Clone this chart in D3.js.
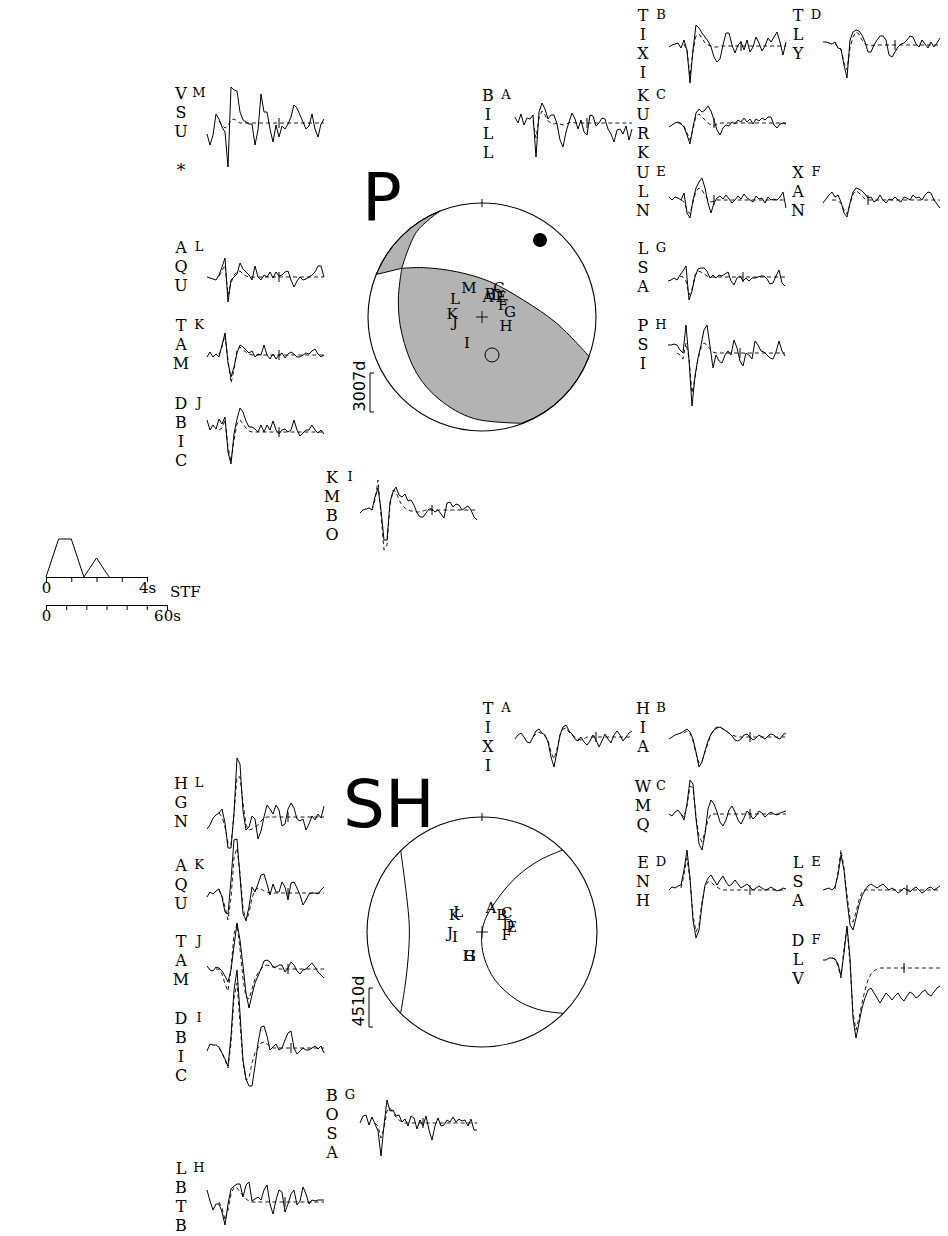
<!DOCTYPE html>
<html>
<head>
<meta charset="utf-8">
<script src="https://cdn.jsdelivr.net/npm/d3@7"></script>
<style>
  body { margin: 0; background: #fff; }
  svg { display: block; }
</style>
</head>
<body>
<svg id="fig" width="948" height="1236"></svg>
<script>
// ---------- data ----------
const pCodes = ["A","B","C","D","E","F","G","H","I","J","K","L","M"];
const pNames = ["BILL","TIXI","KURK","TLY","ULN","XAN","LSA","PSI","KMBO","DBIC","TAM","AQU","VSU *"];
const shCodes = ["A","B","C","D","E","F","G","H","I","J","K","L"];
const shNames = ["TIXI","HIA","WMQ","ENH","LSA","DLV","BOSA","LBTB","DBIC","TAM","AQU","HGN"];

// station positions on the focal sphere (unit circle, y up)
const pBallX = [0.053,0.070,0.149,0.132,0.167,0.184,0.246,0.211,-0.132,-0.237,-0.263,-0.237,-0.114];
const pBallY = [0.175,0.202,0.254,0.193,0.175,0.105,0.044,-0.079,-0.228,-0.044,0.026,0.158,0.254];
const shBallX = [0.078,0.171,0.215,0.229,0.258,0.215,-0.104,-0.113,-0.235,-0.278,-0.241,-0.206];
const shBallY = [0.206,0.148,0.162,0.061,0.046,-0.026,-0.209,-0.209,-0.041,-0.011,0.148,0.176];

// nodal lines
const pPlane1 = [[-0.366,0.931],[-0.573,0.748],[-0.704,0.427],[-0.734,0.149],[-0.704,-0.143],[-0.573,-0.494],[-0.368,-0.728],[-0.077,-0.889],[0.348,-0.932]];
const pPlane2 = [[-0.928,0.373],[-0.704,0.427],[-0.515,0.433],[-0.222,0.397],[0.070,0.310],[0.362,0.149],[0.655,-0.055],[0.939,-0.345]];
const shLine1 = [[-0.707,0.707],[-0.684,0.539],[-0.655,0.307],[-0.632,0.046],[-0.641,-0.215],[-0.670,-0.476],[-0.707,-0.702]];
const shLine2 = [[0.702,0.713],[0.504,0.626],[0.302,0.481],[0.128,0.278],[0.026,0.104],[-0.003,-0.041],[0.017,-0.215],[0.113,-0.417],[0.302,-0.591],[0.504,-0.678],[0.702,-0.707]];
const tAxis = [0.509, 0.675];
const pAxis = [0.088, -0.333];

// source time function (s, relative amplitude)
const stfTime = [0, 0.5, 1.0, 1.5, 2.0, 2.5];
const stfAmp = [0, 1, 1, 0, 0.5, 0];

// P waveforms: observed (solid) and synthetic (dashed)
const pObsA = [6,0,9,-2,5,4,8,-34,11,20,14,4,8,8,-1,-17,-24,-9,1,10,4,-6,3,-9,-12,8,7,-3,0,5,4,-6,-11,-19,-7,-6,-11,-3,-17,-6];
const pSynA = [null,null,null,null,null,null,2,-15,5,12,8,2,0,-1,0,-1,-2,-1,0,1,0,0,0,0,0,0,0,0,0,0,0,0,0,0,0,0,0,0,0,0];
const pObsB = [-1,1,2,3,-2,6,-4,-37,-4,21,18,13,9,5,-1,-11,-16,-13,1,13,13,1,-7,1,4,-4,6,-6,-1,9,3,-5,0,8,4,9,14,4,-9,4];
const pSynB = [null,null,null,null,null,2,-5,-30,-5,10,12,8,3,1,0,-1,-1,0,0,0,0,0,0,0,0,0,0,0,0,0,0,0,0,0,0,0,0,0,0,0];
const pObsC = [-4,-2,0,1,-1,-4,-12,-21,-4,10,14,11,13,17,12,3,-7,-12,-5,-2,-3,1,-1,3,1,5,1,4,-1,4,2,5,3,6,6,-2,-5,-1,0,-1];
const pSynC = [null,null,null,0,0,-3,-10,-17,-6,7,9,6,3,0,-2,-3,-1,0,0,0,0,0,0,0,0,0,0,0,0,0,0,0,0,0,0,0,0,0,0,0];
const pObsD = [3,3,2,1,3,-3,-4,-20,-33,5,13,15,14,10,3,-7,-7,0,5,9,9,5,-10,-12,-7,-2,1,2,5,9,8,1,-2,5,1,-3,3,-2,2,7];
const pSynD = [null,null,null,null,1,-2,-4,-18,-25,-3,8,13,11,5,1,0,-1,0,0,0,0,0,0,0,0,0,0,0,0,0,0,0,0,0,0,0,0,0,0,0];
const pObsE = [3,0,3,2,0,7,-13,-18,0,12,18,22,12,-3,-13,-3,2,4,1,5,1,-3,0,4,1,6,2,0,-2,4,1,2,-3,3,0,1,0,3,8,-8];
const pSynE = [null,null,null,null,0,-2,-10,-14,-2,9,12,10,5,0,-2,-1,0,0,0,0,0,0,0,0,0,0,0,0,0,0,0,0,0,0,0,0,0,0,0,0];
const pObsF = [-3,1,5,8,3,5,-2,-13,-17,-3,8,12,11,9,6,2,3,-2,0,5,0,-3,1,0,3,0,-2,3,2,0,5,2,3,0,5,8,7,0,-4,-8];
const pSynF = [null,null,null,0,0,-1,-3,-10,-14,-4,6,9,7,4,1,0,0,0,0,0,0,0,0,0,0,0,0,0,0,0,0,0,0,0,0,0,0,0,0,0];
const pObsG = [-4,-3,-1,-3,2,6,11,-23,-14,0,8,9,9,6,-1,2,-1,2,1,3,5,-4,-8,-1,1,-4,-1,-4,-1,-1,0,1,1,-2,-7,-6,1,7,-6,-9];
const pSynG = [null,null,null,null,1,0,-4,-18,-12,2,6,5,3,1,0,0,0,0,0,0,0,0,0,0,0,0,0,0,0,0,0,0,0,0,0,0,0,0,0,0];
const pObsH = [8,8,9,8,3,0,28,-7,-53,-23,-5,8,23,28,7,-15,-2,-8,-10,-2,2,-2,13,5,-8,-13,0,-2,-6,12,8,2,1,-2,-5,-6,1,12,2,-3];
const pSynH = [null,null,null,0,-2,-6,10,-5,-40,-25,-6,5,10,8,4,1,0,0,0,0,0,0,0,0,0,0,0,0,0,0,0,0,0,0,0,0,0,0,0,0];
const pObsI = [-3,0,1,2,0,13,22,0,-30,-30,8,18,23,15,13,16,9,10,5,-3,-7,-7,-3,1,1,-2,0,-4,-8,7,8,3,6,5,0,2,4,0,-7,-10];
const pSynI = [null,null,null,null,0,10,30,-5,-40,-35,5,20,18,10,5,2,0,-1,-1,-2,-2,-1,0,0,0,0,0,0,0,0,0,0,0,0,0,0,0,0,0,0];
const pObsJ = [12,2,7,3,13,8,15,-20,-32,-2,13,24,20,11,5,5,3,0,7,0,7,2,11,2,-2,2,3,0,2,12,2,-4,-1,2,2,7,2,-1,2,-2];
const pSynJ = [null,null,null,null,2,4,12,-15,-30,-8,8,12,8,4,1,0,0,0,0,0,0,0,0,0,0,0,0,0,0,0,0,0,0,0,0,0,0,0,0,0];
const pObsK = [-2,3,-2,1,-2,10,22,-8,-22,-12,2,10,8,5,2,4,-2,1,0,10,0,-4,1,-4,0,2,-3,1,3,1,-2,-2,0,2,1,4,6,1,-2,0];
const pSynK = [null,null,null,null,0,8,20,-5,-28,-15,5,8,5,3,1,0,0,0,0,0,0,0,0,0,0,0,0,0,0,0,0,0,0,0,0,0,0,0,0,0];
const pObsL = [0,-1,-2,-3,2,10,19,-25,-3,0,3,14,8,5,2,-3,11,0,-3,2,0,5,-1,5,1,2,5,6,-3,-10,-4,0,-3,-2,0,2,5,11,11,0];
const pSynL = [null,null,null,null,1,6,12,-18,-6,2,5,6,3,1,0,0,0,0,0,0,0,0,0,0,0,0,0,0,0,0,0,0,0,0,0,0,0,0,0,0];
const pObsM = [-11,-22,-12,9,4,-4,-9,-44,36,33,32,11,3,1,-1,-1,-22,-7,29,11,11,-6,-19,-2,-14,-3,-6,-1,6,18,15,8,1,-6,-3,9,-6,-14,-1,4];
const pSynM = [null,null,null,null,2,-2,-5,-3,3,4,2,0,0,0,0,0,0,0,0,0,0,0,0,0,0,0,0,0,0,0,0,0,0,0,0,0,0,0,0,0];

// SH waveforms
const shObsA = [-2,2,4,0,-5,-6,0,6,8,4,2,-5,-20,-30,-15,2,10,12,6,3,-2,-4,0,-5,-8,-4,2,-3,-10,-4,3,-2,-6,2,6,2,-4,0,4,6];
const shSynA = [null,null,null,null,null,null,0,3,5,3,1,-3,-15,-22,-12,2,8,9,5,2,0,-2,-3,-2,0,0,0,0,0,0,0,0,0,0,0,0,0,0,0,0];
const shObsB = [-2,0,2,3,4,6,8,5,-2,-15,-30,-25,-14,-4,3,7,9,10,8,6,4,1,-3,-4,-2,2,3,0,-3,-1,2,0,-2,1,3,2,-1,-2,2,4];
const shSynB = [null,null,null,null,null,4,6,4,-4,-16,-26,-24,-15,-6,2,8,10,10,8,6,4,2,1,0,0,0,0,0,0,0,0,0,0,0,0,0,0,0,0,0];
const shObsC = [0,-2,2,4,0,-6,10,34,30,-5,-30,-36,-20,5,14,10,2,-8,-12,-6,4,8,2,-6,-10,-4,3,0,-5,-2,3,1,-3,0,2,0,-1,1,2,3];
const shSynC = [null,null,null,null,0,-3,8,28,26,-2,-22,-28,-18,-6,0,0,0,0,0,0,0,0,0,0,0,0,0,0,0,0,0,0,0,0,0,0,0,0,0,0];
const shObsD = [0,3,2,4,5,20,40,12,-30,-48,-40,-15,5,12,15,10,5,10,14,8,4,6,10,6,2,4,6,3,0,2,4,2,0,1,3,1,-1,0,2,1];
const shSynD = [null,null,null,null,2,15,32,10,-25,-42,-35,-12,4,8,8,5,3,1,0,0,0,0,0,0,0,0,0,0,0,0,0,0,0,0,0,0,0,0,0,0];
const shObsE = [0,1,2,0,3,15,35,20,-10,-35,-40,-28,-15,-6,0,4,6,4,2,4,6,3,0,2,0,-3,-1,2,0,-2,1,3,0,-3,-1,2,3,0,2,4];
const shSynE = [null,null,null,null,1,18,40,22,-5,-28,-32,-22,-10,-2,0,0,0,0,0,0,0,0,0,0,0,0,0,0,0,0,0,0,0,0,0,0,0,0,0,0];
const shObsF = [8,8,10,10,9,4,-8,15,42,10,-50,-70,-55,-40,-30,-22,-20,-25,-30,-35,-30,-25,-28,-32,-28,-25,-30,-33,-28,-24,-26,-30,-28,-24,-22,-26,-28,-24,-20,-18];
const shSynF = [null,null,null,10,9,2,-10,20,40,5,-45,-62,-50,-35,-22,-12,-6,-3,-1,0,0,0,0,0,0,0,0,0,0,0,0,0,0,0,0,0,0,0,0,0];
const shObsG = [0,7,8,-2,6,-1,-8,-33,-2,23,12,13,7,8,1,4,-3,7,5,-6,3,-3,7,-7,-17,-3,5,-3,-2,3,1,6,1,4,2,3,-3,4,-7,-7];
const shSynG = [null,null,null,null,null,0,-3,-15,-5,12,15,10,6,3,1,0,0,0,0,0,0,0,0,0,0,0,0,0,0,0,0,0,0,0,0,0,0,0,0,0];
const shObsH = [12,1,-8,-2,-2,-10,-23,-2,13,16,18,18,5,17,20,1,3,5,2,12,17,-2,-12,2,12,10,-10,-2,8,12,-3,1,15,8,-2,2,1,2,2,2];
const shSynH = [null,null,null,null,0,-6,-18,-8,8,15,14,10,6,3,1,0,0,0,0,0,0,0,0,0,0,0,0,0,0,0,0,0,0,0,0,0,0,0,0,0];
const shObsI = [-3,4,3,3,1,-5,-11,-18,12,58,78,35,-12,-31,-38,-38,-18,5,21,22,12,-2,1,4,-2,0,8,15,17,0,-6,-3,0,-2,-2,0,2,-1,2,-5];
const shSynI = [null,null,null,null,0,-5,-12,-20,5,50,65,25,-15,-32,-30,-15,-5,0,5,6,4,2,0,0,0,0,0,0,0,0,0,0,0,0,0,0,0,0,0,0];
const shObsJ = [3,-1,-2,2,1,-2,-7,-13,-1,23,46,29,3,-24,-39,-26,-14,-7,0,8,9,7,2,2,4,4,-3,1,7,4,-2,-5,-1,0,3,6,2,-3,-6,-9];
const shSynJ = [null,null,null,0,0,-5,-15,-22,0,35,45,20,-10,-28,-30,-20,-10,-4,0,3,4,3,2,1,0,0,0,0,0,0,0,0,0,0,0,0,0,0,0,0];
const shObsK = [-4,1,-1,2,4,-4,-19,-21,13,53,54,16,-21,-27,-14,6,1,9,18,19,9,-2,9,1,1,11,6,-7,10,11,5,-2,-12,-7,-1,0,0,-1,3,6];
const shSynK = [null,null,null,null,3,-3,-14,-27,-5,35,45,20,-15,-28,-20,-5,3,5,4,2,1,0,0,0,0,0,0,0,0,0,0,0,0,0,0,0,0,0,0,0];
const shObsL = [-12,-8,-1,2,4,8,-6,-31,-31,4,59,53,6,-13,-10,1,-2,-22,-14,0,12,8,3,12,7,-9,-7,8,14,9,-2,-4,-2,-13,-7,1,-3,3,-1,11];
const shSynL = [null,null,null,null,4,0,-10,-26,-28,3,40,40,14,-8,-13,-12,-10,-8,-4,-1,0,0,0,0,0,0,0,0,0,0,0,0,0,0,0,0,0,0,0,0];

const pObs = [pObsA,pObsB,pObsC,pObsD,pObsE,pObsF,pObsG,pObsH,pObsI,pObsJ,pObsK,pObsL,pObsM];
const pSyn = [pSynA,pSynB,pSynC,pSynD,pSynE,pSynF,pSynG,pSynH,pSynI,pSynJ,pSynK,pSynL,pSynM];
const shObs = [shObsA,shObsB,shObsC,shObsD,shObsE,shObsF,shObsG,shObsH,shObsI,shObsJ,shObsK,shObsL];
const shSyn = [shSynA,shSynB,shSynC,shSynD,shSynE,shSynF,shSynG,shSynH,shSynI,shSynJ,shSynK,shSynL];
// sample index of the window mark on each trace
const pTick = [24,24,15,24,15,15,25,24,24,24,24,24,24];
const shTick = [27,27,27,27,28,27,21,26,28,27,27,27];

// ---------- layout ----------
const pLabelPos = [[488,95],[643,15],[643,95],[798,15],[643,172],[798,172],[643,248],[643,325],[332,477],[181,403],[181,325],[181,247],[181,93]];
const pTracePos = [[515,123],[669,46],[669,123],[823,45],[669,200],[823,200],[668,277],[668,353],[360,510],[207,432],[207,355],[207,277],[207,123]];
const shLabelPos = [[488,708],[643,708],[643,786],[643,862],[798,862],[798,940],[332,1095],[181,1168],[181,1018],[181,941],[181,865],[181,783]];
const shTracePos = [[515,737],[669,737],[669,814],[669,890],[823,890],[823,968],[360,1123],[207,1202],[207,1048],[207,969],[207,893],[207,817]];

const TRACE_W = 117;
const LETTER_STEP = 19.3;
const SERIF = "'DejaVu Serif', serif";
const SANS = "'DejaVu Sans', sans-serif";

const svg = d3.select("#fig");

// station label written top to bottom + small code letter
function drawLabel(x, y, name, code) {
    const g = svg.append("g").attr("font-family", SERIF).attr("fill", "#000");
    name.split("").forEach((ch, k) => {
        if (ch === " ") return;
        g.append("text")
            .attr("x", x).attr("y", y + k * LETTER_STEP)
            .attr("text-anchor", "middle")
            .attr("dominant-baseline", "central")
            .attr("font-size", ch === "*" ? 17 : 16)
            .text(ch);
    });
    g.append("text")
        .attr("x", x + 18).attr("y", y - 1)
        .attr("text-anchor", "middle")
        .attr("dominant-baseline", "central")
        .attr("font-size", 13)
        .text(code);
}

function drawTrace(x0, y0, obs, syn, tickAt) {
    const x = d3.scaleLinear().domain([0, obs.length - 1]).range([x0, x0 + TRACE_W]);
    const y = d3.scaleLinear().domain([-1, 1]).range([y0 + 1, y0 - 1]);
    const line = d3.line()
        .defined(d => d !== null)
        .x((d, i) => x(i))
        .y(d => y(d));
    svg.append("path")
        .attr("d", line(syn))
        .attr("fill", "none")
        .attr("stroke", "#000")
        .attr("stroke-width", 0.9)
        .attr("stroke-dasharray", "4,3");
    svg.append("path")
        .attr("d", line(obs))
        .attr("fill", "none")
        .attr("stroke", "#000")
        .attr("stroke-width", 1);
    svg.append("line")
        .attr("x1", x(tickAt)).attr("x2", x(tickAt))
        .attr("y1", y(5)).attr("y2", y(-5))
        .attr("stroke", "#000").attr("stroke-width", 1);
}

function drawBall(cx, cy, r, title, titleX, titleY, ampText) {
    const sx = d3.scaleLinear().domain([-1, 1]).range([cx - r, cx + r]);
    const sy = d3.scaleLinear().domain([-1, 1]).range([cy + r, cy - r]);
    const g = svg.append("g");
    g.append("circle")
        .attr("cx", sx(0)).attr("cy", sy(0)).attr("r", r)
        .attr("fill", "#fff");
    svg.append("text")
        .attr("x", titleX)
        .attr("y", titleY)
        .attr("font-family", SANS)
        .attr("font-size", 66)
        .text(title);
    // amplitude scale
    const bar = svg.append("g");
    bar.append("path")
        .attr("d", `M${cx - r + 6},${cy + 56} H${cx - r + 2} V${cy + 95} H${cx - r + 6}`)
        .attr("fill", "none").attr("stroke", "#000");
    bar.append("text")
        .attr("transform", `translate(${cx - r - 9},${cy + 69}) rotate(-90)`)
        .attr("text-anchor", "middle")
        .attr("dominant-baseline", "central")
        .attr("font-family", SANS)
        .attr("font-size", 16)
        .text(ampText);
    return { g, sx, sy };
}

function finishBall(b, r, bx, by, codes) {
    const { g, sx, sy } = b;
    g.append("circle")
        .attr("cx", sx(0)).attr("cy", sy(0)).attr("r", r)
        .attr("fill", "none").attr("stroke", "#000").attr("stroke-width", 1.1);
    g.append("line")
        .attr("x1", sx(0)).attr("x2", sx(0))
        .attr("y1", sy(1) - 4).attr("y2", sy(1) + 4)
        .attr("stroke", "#000");
    g.append("path")
        .attr("d", `M${sx(0) - 6},${sy(0)} H${sx(0) + 6} M${sx(0)},${sy(0) - 6} V${sy(0) + 6}`)
        .attr("stroke", "#000").attr("stroke-width", 0.9);
    codes.forEach((c, i) => {
        g.append("text")
            .attr("x", sx(bx[i])).attr("y", sy(by[i]))
            .attr("text-anchor", "middle")
            .attr("dominant-baseline", "central")
            .attr("font-family", SERIF)
            .attr("font-size", 15)
            .text(c);
    });
}

// ---------- P focal sphere ----------
const pC = [482, 317], pR = 114;
const pb = drawBall(pC[0], pC[1], pR, "P", 362, 220, "3007d");
{
    const { g, sx, sy } = pb;
    const cr = d3.line().x(d => sx(d[0])).y(d => sy(d[1])).curve(d3.curveCatmullRom);
    const cont = pts => cr(pts).replace(/^M/, "L");
    const i1 = 2, i2 = 1; // intersection index in plane1 / plane2
    const p1end = pPlane1[pPlane1.length - 1], p2start = pPlane2[0];
    const mainShade = cr(pPlane2.slice(i2)) +
        `A${pR},${pR} 0 0 1 ${sx(p1end[0])},${sy(p1end[1])}` +
        cont(pPlane1.slice(i1).reverse()) + "Z";
    const smallShade = cr(pPlane2.slice(0, i2 + 1)) +
        cont(pPlane1.slice(0, i1 + 1).reverse()) +
        `A${pR},${pR} 0 0 0 ${sx(p2start[0])},${sy(p2start[1])}` + "Z";
    [mainShade, smallShade].forEach(d => {
        g.append("path").attr("d", d)
            .attr("fill", "#b3b3b3").attr("stroke", "#000").attr("stroke-width", 1);
    });
    g.append("circle").attr("cx", sx(tAxis[0])).attr("cy", sy(tAxis[1])).attr("r", 7).attr("fill", "#000");
    g.append("circle").attr("cx", sx(pAxis[0])).attr("cy", sy(pAxis[1])).attr("r", 7)
        .attr("fill", "none").attr("stroke", "#000").attr("stroke-width", 1);
}
finishBall(pb, pR, pBallX, pBallY, pCodes);

// ---------- SH focal sphere ----------
const shC = [482, 932], shR = 115;
const sb = drawBall(shC[0], shC[1], shR, "SH", 343, 827, "4510d");
{
    const { g, sx, sy } = sb;
    const cr = d3.line().x(d => sx(d[0])).y(d => sy(d[1])).curve(d3.curveCatmullRom);
    [shLine1, shLine2].forEach(pts => {
        g.append("path").attr("d", cr(pts))
            .attr("fill", "none").attr("stroke", "#000").attr("stroke-width", 1);
    });
}
finishBall(sb, shR, shBallX, shBallY, shCodes);

// ---------- waveforms ----------
pCodes.forEach((c, i) => {
    drawLabel(pLabelPos[i][0], pLabelPos[i][1], pNames[i], c);
    drawTrace(pTracePos[i][0], pTracePos[i][1], pObs[i], pSyn[i], pTick[i]);
});
shCodes.forEach((c, i) => {
    drawLabel(shLabelPos[i][0], shLabelPos[i][1], shNames[i], c);
    drawTrace(shTracePos[i][0], shTracePos[i][1], shObs[i], shSyn[i], shTick[i]);
});

// ---------- source time function and time scales ----------
const stfX = d3.scaleLinear().domain([0, 4]).range([46, 147]);
const stfY = d3.scaleLinear().domain([0, 1]).range([577, 539]);
svg.append("path")
    .attr("d", d3.line().x((d, i) => stfX(stfTime[i])).y(d => stfY(d))(stfAmp))
    .attr("fill", "none").attr("stroke", "#000").attr("stroke-width", 1);

const stfAxis = svg.append("g")
    .attr("transform", "translate(0,577)")
    .call(d3.axisBottom(stfX).ticks(4).tickSize(5).tickSizeOuter(0)
        .tickFormat(d => d === 0 ? "0" : d === 4 ? "4s" : ""));
const tAxisG = svg.append("g")
    .attr("transform", "translate(0,605)")
    .call(d3.axisBottom(d3.scaleLinear().domain([0, 60]).range([46, 167]))
        .ticks(6).tickSize(5).tickSizeOuter(0)
        .tickFormat(d => d === 0 ? "0" : d === 60 ? "60s" : ""));
[stfAxis, tAxisG].forEach(a => {
    a.selectAll("text").attr("font-family", SERIF).attr("font-size", 15).attr("fill", "#000").attr("dy", "0.55em");
    a.selectAll("line").attr("stroke", "#000");
    a.select(".domain").attr("stroke", "#000");
});
svg.append("text")
    .attr("x", 170).attr("y", 597)
    .attr("font-family", SERIF).attr("font-size", 15)
    .text("STF");
</script>
</body>
</html>
